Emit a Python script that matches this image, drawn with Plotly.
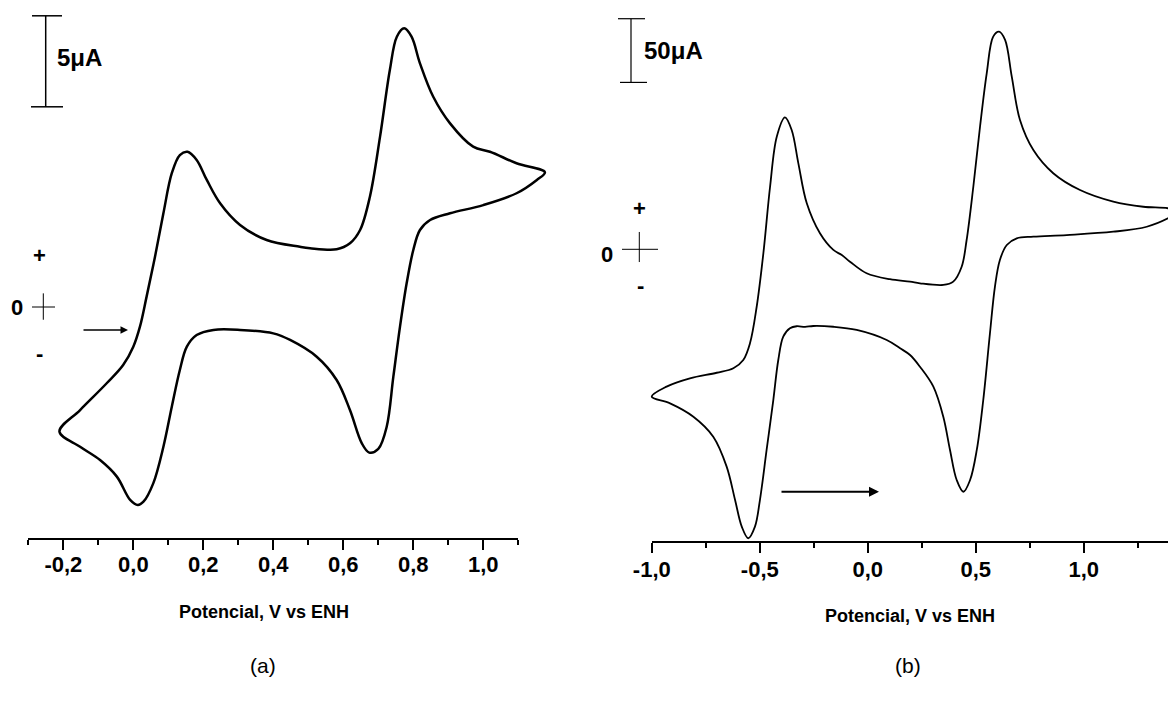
import plotly.graph_objects as go

W, H = 1168, 706

# ---- Panel (a): cyclic voltammogram, potential in V vs ENH, current in µA
pot_a = [-0.211, -0.152, -0.076, -0.029, 0.000, 0.019, 0.038, 0.062, 0.086, 0.110,
         0.133, 0.155, 0.181, 0.210, 0.248, 0.305, 0.381, 0.476, 0.505, 0.581,
         0.619, 0.648, 0.676, 0.705, 0.733, 0.753, 0.774, 0.795, 0.819, 0.857,
         0.905, 0.971, 1.019, 1.095, 1.176, 1.153, 1.095, 1.000, 0.905, 0.848,
         0.819, 0.800, 0.781, 0.762, 0.743, 0.724, 0.700, 0.674, 0.653, 0.619,
         0.581, 0.524, 0.448, 0.400, 0.305, 0.229, 0.181, 0.153, 0.133, 0.110,
         0.086, 0.057, 0.029, 0.013, -0.009, -0.047, -0.095, -0.152, -0.211]
cur_a = [-6.85, -5.66, -4.19, -3.19, -2.18, -1.08, 0.57, 2.76, 5.15, 7.35,
         8.35, 8.53, 8.08, 6.98, 5.70, 4.51, 3.68, 3.31, 3.23, 3.17,
         3.50, 4.23, 6.06, 9.36, 13.02, 14.85, 15.31, 14.85, 13.39, 11.55,
         10.09, 8.81, 8.53, 7.90, 7.40, 6.98, 6.25, 5.60, 5.15, 4.78,
         4.23, 3.13, 1.30, -1.08, -3.83, -6.58, -7.80, -8.00, -7.49, -5.66,
         -4.01, -2.73, -1.81, -1.45, -1.26, -1.26, -1.54, -2.18, -3.46, -5.48,
         -7.68, -9.69, -10.70, -10.88, -10.60, -9.32, -8.41, -7.68, -6.85]

# ---- Panel (b)
pot_b = [-1.000, -0.931, -0.823, -0.699, -0.622, -0.576, -0.545, -0.514, -0.483, -0.452,
         -0.421, -0.383, -0.352, -0.321, -0.282, -0.221, -0.159, -0.120, -0.082, -0.005,
         0.103, 0.196, 0.242, 0.350, 0.396, 0.435, 0.458, 0.489, 0.520, 0.551,
         0.581, 0.608, 0.636, 0.667, 0.705, 0.767, 0.859, 0.983, 1.137, 1.276,
         1.390, 1.437, 1.390, 1.292, 1.137, 0.921, 0.767, 0.690, 0.644, 0.612,
         0.589, 0.566, 0.535, 0.505, 0.474, 0.443, 0.412, 0.381, 0.350, 0.304,
         0.242, 0.196, 0.150, 0.088, -0.051, -0.159, -0.252, -0.290, -0.329, -0.360,
         -0.391, -0.414, -0.437, -0.468, -0.499, -0.522, -0.553, -0.583, -0.614, -0.653,
         -0.715, -0.807, -0.915, -1.000]
cur_b = [-115.7, -107.8, -101.3, -96.9, -93.4, -86.9, -73.8, -45.1, -3.1, 49.1,
         88.4, 103.6, 93.6, 67.5, 36.1, 12.6, -0.5, -4.5, -9.7, -18.8,
         -23.5, -25.4, -26.7, -28.0, -25.4, -13.7, 7.3, 49.1, 96.2, 138.1,
         166.9, 170.8, 164.3, 135.5, 101.5, 77.9, 59.7, 46.5, 37.4, 33.4,
         32.2, 29.3, 24.3, 17.7, 13.8, 11.2, 9.9, 8.6, 3.4, -8.4,
         -29.4, -65.9, -118.3, -157.5, -181.1, -190.3, -181.1, -157.5, -131.4, -107.8,
         -92.2, -83.0, -77.7, -71.2, -63.3, -60.8, -60.2, -60.9, -60.4, -62.0,
         -68.6, -86.9, -118.3, -157.5, -196.8, -217.7, -226.8, -217.7, -196.8, -170.6,
         -147.1, -131.4, -120.9, -115.7]

# ---- Tick marks
ticks_a = [-0.2, 0.0, 0.2, 0.4, 0.6, 0.8, 1.0]
ticklabels_a = ["-0,2", "0,0", "0,2", "0,4", "0,6", "0,8", "1,0"]
minor_a = [-0.3, -0.1, 0.1, 0.3, 0.5, 0.7, 0.9, 1.1]
ticks_b = [-1.0, -0.5, 0.0, 0.5, 1.0]
ticklabels_b = ["-1,0", "-0,5", "0,0", "0,5", "1,0"]
minor_b = [-0.75, -0.25, 0.25, 0.75, 1.25]

# Current scale bars (µA)
scale_a_low, scale_a_high = 11.0, 16.0
scale_b_low, scale_b_high = 131.0, 181.0

xlabel = "Potencial, V vs ENH"

FONT = "Liberation Sans, Arial, sans-serif"


def fx(px):
    return px / W


def fy(py):
    return 1 - py / H


fig = go.Figure()
fig.add_trace(go.Scatter(x=pot_a, y=cur_a, xaxis="x3", yaxis="y", mode="lines",
                         line=dict(color="black", width=2.5, shape="spline", smoothing=1.0),
                         showlegend=False, hoverinfo="skip"))
fig.add_trace(go.Scatter(x=pot_b, y=cur_b, xaxis="x4", yaxis="y2", mode="lines",
                         line=dict(color="black", width=1.8, shape="spline", smoothing=1.0),
                         showlegend=False, hoverinfo="skip"))
# empty traces so the potential axes are drawn
fig.add_trace(go.Scatter(x=[None], y=[None], xaxis="x", yaxis="y", mode="lines",
                         showlegend=False, hoverinfo="skip"))
fig.add_trace(go.Scatter(x=[None], y=[None], xaxis="x2", yaxis="y2", mode="lines",
                         showlegend=False, hoverinfo="skip"))

axis_common = dict(showgrid=False, zeroline=False, showline=True, linecolor="black",
                   ticks="outside", tickcolor="black", ticklen=10, automargin=False,
                   tickmode="array", fixedrange=True,
                   tickfont=dict(family=FONT, size=22, color="black", weight="bold"))
hidden = dict(visible=False, fixedrange=True, automargin=False)

fig.update_layout(
    width=W, height=H, margin=dict(l=0, r=0, t=0, b=0, autoexpand=False),
    paper_bgcolor="white", plot_bgcolor="rgba(0,0,0,0)",
    showlegend=False,
    xaxis=dict(domain=[fx(28.3), fx(518.3)], range=[-0.3002, 1.1002], anchor="y",
               tickvals=ticks_a, ticktext=ticklabels_a, linewidth=2, tickwidth=2,
               ticklabelstandoff=-4,
               minor=dict(tickmode="array", tickvals=minor_a, ticks="outside",
                          ticklen=5, tickwidth=2, tickcolor="black"),
               **axis_common),
    xaxis3=dict(domain=[0, fx(600)], range=[(0 - 133.3) / 350, (600 - 133.3) / 350],
                anchor="y", **hidden),
    yaxis=dict(domain=[fy(538), 1], range=[(307 - 538) / 18.2, 307 / 18.2],
               anchor="x3", **hidden),
    xaxis2=dict(domain=[fx(651.7), 1], range=[-1.0005, 1.3903], anchor="y2",
                tickvals=ticks_b, ticktext=ticklabels_b, linewidth=1.5, tickwidth=1.5,
                ticklabelstandoff=-2,
                minor=dict(tickmode="array", tickvals=minor_b, ticks="outside",
                           ticklen=5, tickwidth=1.5, tickcolor="black"),
                **axis_common),
    xaxis4=dict(domain=[fx(600), 1], range=[(600 - 867.7) / 216, (1168 - 867.7) / 216],
                anchor="y2", **hidden),
    yaxis2=dict(domain=[fy(541), 1], range=[(249.3 - 541) / 1.274, 249.3 / 1.274],
                anchor="x4", **hidden),
)

shapes = []


def seg(x0, x1, y0, y1, yref, w):
    shapes.append(dict(type="line", xref="paper", yref=yref,
                       x0=fx(x0), x1=fx(x1), y0=y0, y1=y1,
                       line=dict(color="black", width=w)))


# scale bar (a)
seg(45.7, 45.7, scale_a_low, scale_a_high, "y", 1.5)
seg(32, 62, scale_a_high, scale_a_high, "y", 1.5)
seg(31, 63, scale_a_low, scale_a_low, "y", 1.5)
# zero-current cross (a)
seg(32, 55, 0, 0, "y", 1)
seg(43.3, 43.3, -0.7, 0.75, "y", 1)
# scale bar (b)
seg(631, 631, scale_b_low, scale_b_high, "y2", 1.2)
seg(618, 645, scale_b_high, scale_b_high, "y2", 1.2)
seg(620, 647, scale_b_low, scale_b_low, "y2", 1.2)
# zero-current cross (b)
seg(622, 658, 0, 0, "y2", 1)
seg(639.3, 639.3, -10.0, 13.6, "y2", 1)
fig.update_layout(shapes=shapes)

bold = dict(family=FONT, size=24, color="black", weight="bold")
sign = dict(family=FONT, size=22, color="black", weight="bold")
annotations = [
    dict(text="5μA", x=fx(55), y=fy(57), xanchor="left", yanchor="middle", font=bold),
    dict(text="50μA", x=fx(642), y=fy(50), xanchor="left", yanchor="middle", font=bold),
    dict(text="+", x=fx(39.5), y=fy(256), xanchor="center", yanchor="middle", font=sign),
    dict(text="0", x=fx(17), y=fy(307), xanchor="center", yanchor="middle", font=sign),
    dict(text="-", x=fx(39.5), y=fy(353), xanchor="center", yanchor="middle", font=sign),
    dict(text="+", x=fx(639), y=fy(208), xanchor="center", yanchor="middle", font=sign),
    dict(text="0", x=fx(607), y=fy(254), xanchor="center", yanchor="middle", font=sign),
    dict(text="-", x=fx(640), y=fy(285), xanchor="center", yanchor="middle", font=sign),
    dict(text=xlabel, x=fx(264), y=fy(612), xanchor="center", yanchor="middle",
         font=dict(family=FONT, size=18, color="black", weight="bold")),
    dict(text=xlabel, x=fx(910), y=fy(616), xanchor="center", yanchor="middle",
         font=dict(family=FONT, size=18, color="black", weight="bold")),
    dict(text="(a)", x=fx(263), y=fy(665), xanchor="center", yanchor="middle",
         font=dict(family=FONT, size=21, color="black")),
    dict(text="(b)", x=fx(908), y=fy(665), xanchor="center", yanchor="middle",
         font=dict(family=FONT, size=21, color="black")),
    # scan-direction arrows
    dict(text="", x=fx(128), y=fy(330), ax=-46, ay=0, showarrow=True,
         arrowhead=2, arrowsize=1, arrowwidth=1.5, arrowcolor="black", standoff=0),
    dict(text="", x=fx(879), y=fy(491.7), ax=-99, ay=0, showarrow=True,
         arrowhead=2, arrowsize=1, arrowwidth=2, arrowcolor="black", standoff=0),
]
for a in annotations:
    a.setdefault("xref", "paper")
    a.setdefault("yref", "paper")
    a.setdefault("showarrow", False)
fig.update_layout(annotations=annotations)

fig.write_html("out.html", config={"displayModeBar": False})
